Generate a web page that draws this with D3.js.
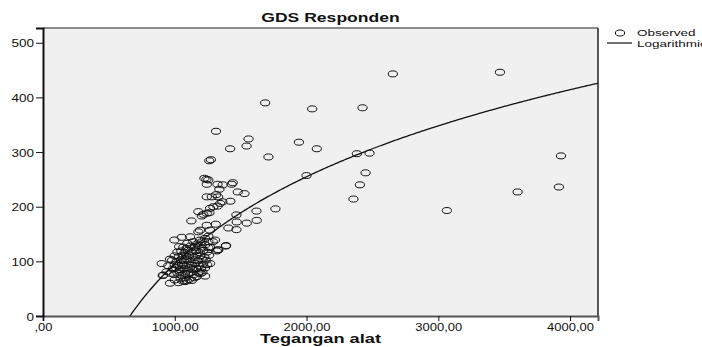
<!DOCTYPE html>
<html>
<head>
<meta charset="utf-8">
<script src="https://cdn.jsdelivr.net/npm/d3@7"></script>
<style>
  body { margin: 0; background: #fff; }
  text { font-family: "Liberation Sans", Arial, sans-serif; }
</style>
</head>
<body>
<div id="chart"></div>
<script>
// observed points: [Tegangan alat, GDS Responden]
const upperPoints = [
  [2655,443],[3468,446],[1686,390],[2043,379],[2425,381],[1313,338],[1560,324],[1545,311],
  [1420,306],[1942,318],[2078,306],[1711,291],[1262,284],[1274,286],[2382,297],[2478,298],
  [2000,257],[2448,262],[2405,240],[2356,214],[1764,196],[3065,193],[3602,227],[3915,236],[3931,293]
];
const midPoints = [
  [1225,252],[1255,249],[1240,250],[1243,241],[1324,241],[1364,240],[1440,244],[1432,241],
  [1339,232],[1478,227],[1529,224],[1243,218],[1281,218],[1314,222],[1329,218],[1422,210],
  [1344,206],[1361,209],[1324,201],[1293,200],[1268,197],[1179,191],[1217,186],[1243,188],
  [1263,189],[1205,183],[1126,174],[1468,185],[1620,192],[1622,175],[1546,170],[1470,172],
  [1407,161],[1468,158],[1387,128],[1326,121],[1243,166],[1311,168],[1268,157],[1179,154],
  [1192,157],[1255,146],[1230,142],[1289,136],[1255,136],[1192,139],[1053,144],[1116,145],
  [997,139],[1141,136],[1154,128],[1033,127],[1255,125],[1319,119],[1390,129],[1331,121],
  [1306,139],[1268,126],[1205,136]
];
const clusterPoints = [
  [901,96],[913,75],[939,81],[909,74],[964,104],[1268,96],[964,60],[1028,61],[1078,63],
  [1129,65],[1167,72],[1230,73],[1197,78],[1091,65],
  [1000,66],[1045,68],[1080,70],[1110,67],[1150,70],[1060,64],
  [970,78],[995,76],[1020,79],[1050,75],[1075,78],[1100,77],[1125,80],[1145,76],[1180,79],[1210,80],[1035,82],
  [985,86],[1010,88],[1040,85],[1065,87],[1090,84],[1115,88],[1140,85],[1165,87],[1200,86],[1230,88],
  [950,92],[1000,94],[1025,92],[1055,95],[1080,92],[1105,95],[1130,93],[1155,96],[1185,92],[1215,95],[1245,94],
  [980,102],[1015,100],[1045,103],[1070,101],[1095,104],[1120,100],[1150,103],[1175,101],[1205,104],[1235,102],
  [1000,110],[1030,108],[1060,111],[1085,109],[1110,112],[1140,108],[1165,111],[1195,110],[1225,108],[1260,111],
  [1020,117],[1050,119],[1075,116],[1100,120],[1130,117],[1160,119],[1190,116],[1215,120],[1245,117],
  [1065,126],[1090,124],[1120,128],[1150,125],[1180,129],[1205,124],[1230,130],
  [1095,133],[1170,132]
];
const points = upperPoints.concat(midPoints, clusterPoints);

// logarithmic fit y = a + b*ln(x)
const fitA = -1491.9;
const fitB = 229.8;

const xTicks = [0, 1000, 2000, 3000, 4000];
const xTickLabels = [",00", "1000,00", "2000,00", "3000,00", "4000,00"];
const yTicks = [0, 100, 200, 300, 400, 500];
const legendLabels = ["Observed", "Logarithmic"];

const W = 702, H = 347;
const margin = {top: 28, right: 104, bottom: 31, left: 43};
const width = W - margin.left - margin.right;
const height = H - margin.top - margin.bottom;

const x = d3.scaleLinear().domain([0, 4212]).range([0, width]);
const y = d3.scaleLinear().domain([0, 527]).range([height, 0]);

const svg = d3.select("#chart").append("svg")
  .attr("width", W).attr("height", H);

// text drawn wider than normal, like the original export
function wideText(parent, tx, ty, str, size, weight, sx, anchor) {
  return parent.append("text")
    .attr("transform", "translate(" + tx + "," + ty + ") scale(" + sx + ",1)")
    .attr("text-anchor", anchor)
    .attr("font-size", size + "px")
    .attr("font-weight", weight)
    .attr("fill", "#111")
    .text(str);
}

const g = svg.append("g")
  .attr("transform", "translate(" + margin.left + "," + margin.top + ")");

// plot background
g.append("rect")
  .attr("width", width).attr("height", height)
  .attr("fill", "#f0f0f0");

g.append("clipPath").attr("id", "clip")
  .append("rect").attr("width", width).attr("height", height);

// frame: top grey, right dark
g.append("line").attr("x1", 0).attr("x2", width).attr("y1", 0).attr("y2", 0)
  .attr("stroke", "#8c8c8c").attr("stroke-width", 2);
g.append("line").attr("x1", width).attr("x2", width).attr("y1", 0).attr("y2", height)
  .attr("stroke", "#222").attr("stroke-width", 1.5);

// points
g.append("g").selectAll("ellipse")
  .data(points)
  .enter().append("ellipse")
  .attr("cx", d => x(d[0]))
  .attr("cy", d => y(d[1]))
  .attr("rx", 4.6).attr("ry", 3)
  .attr("fill", "none")
  .attr("stroke", "#111")
  .attr("stroke-width", 1);

// fitted curve
const xs = d3.range(600, 4213, 10);
const line = d3.line().x(d => x(d)).y(d => y(fitA + fitB * Math.log(d)));
g.append("path")
  .datum(xs)
  .attr("clip-path", "url(#clip)")
  .attr("d", line)
  .attr("fill", "none")
  .attr("stroke", "#111")
  .attr("stroke-width", 1.3);

// x-axis
const xAxis = d3.axisBottom(x).tickValues(xTicks).tickFormat("").tickSize(5);
const gx = g.append("g")
  .attr("transform", "translate(0," + height + ")")
  .call(xAxis);
gx.select(".domain").attr("stroke", "#555").attr("stroke-width", 2);
gx.selectAll(".tick line").attr("stroke", "#111");
gx.selectAll(".tick").each(function(d, i) {
  wideText(d3.select(this), 0, 15, xTickLabels[i], 10, "normal", 1.3, "middle");
});

// y-axis
const yAxis = d3.axisLeft(y).tickValues(yTicks).tickFormat("").tickSize(7);
const gy = g.append("g").call(yAxis);
gy.select(".domain").attr("stroke", "#111").attr("stroke-width", 2);
gy.selectAll(".tick line").attr("stroke", "#111");
gy.selectAll(".tick").each(function(d) {
  wideText(d3.select(this), -9, 4, d3.format("d")(d), 10, "normal", 1.35, "end");
});

// x-axis label
wideText(svg, margin.left + width / 2, 343, "Tegangan alat", 13, "bold", 1.4, "middle");

// title
wideText(svg, margin.left + width / 2 + 10, 22, "GDS Responden", 13, "bold", 1.35, "middle");

// legend (the second label runs off the right edge, as in the original)
const lg = svg.append("g");
lg.append("ellipse").attr("cx", 620).attr("cy", 33).attr("rx", 4.6).attr("ry", 3)
  .attr("fill", "none").attr("stroke", "#111");
lg.append("line").attr("x1", 607).attr("x2", 632).attr("y1", 43).attr("y2", 43)
  .attr("stroke", "#111").attr("stroke-width", 1.2);
legendLabels.forEach((d, i) => {
  wideText(lg, 637, 36 + i * 10.5, d, 9, "normal", 1.5, "start");
});
</script>
</body>
</html>
